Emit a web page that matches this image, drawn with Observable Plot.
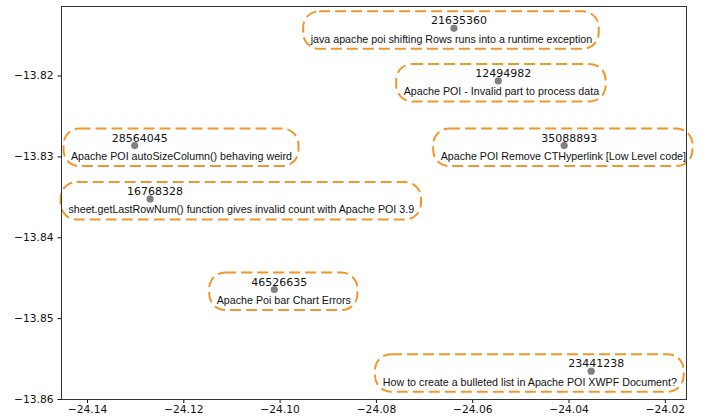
<!DOCTYPE html>
<html>
<head>
<meta charset="utf-8">
<script src="https://cdn.jsdelivr.net/npm/d3@7"></script>
<script src="https://cdn.jsdelivr.net/npm/@observablehq/plot@0.6"></script>
<style>
  html, body { margin: 0; padding: 0; background: #fff; }
</style>
</head>
<body>
<div id="chart"></div>
<script>
// ---- data ----
const ids = ["21635360", "12494982", "35088893", "28564045", "16768328", "46526635", "23441238"];
const titles = [
  "java apache poi shifting Rows runs into a runtime exception",
  "Apache POI - Invalid part to process data",
  "Apache POI Remove CTHyperlink [Low Level code]",
  "Apache POI autoSizeColumn() behaving weird",
  "sheet.getLastRowNum() function gives invalid count with Apache POI 3.9",
  "Apache Poi bar Chart Errors",
  "How to create a bulleted list in Apache POI XWPF Document?"
];
const xs = [-24.0639, -24.0547, -24.0410, -24.1302, -24.1270, -24.1012, -24.0354];
const ys = [-13.8141, -13.8206, -13.8286, -13.8286, -13.8352, -13.8464, -13.8565];
// x where each title label is centred (labels were shifted to stay inside the axes)
const labelXs = [-24.06442, -24.05404, -24.04118, -24.12048, -24.10806, -24.09923, -24.04814];
const xTicks = [-24.14, -24.12, -24.10, -24.08, -24.06, -24.04, -24.02];
const yTicks = [-13.86, -13.85, -13.84, -13.83, -13.82];

const data = ids.map((id, i) => ({id, title: titles[i], x: xs[i], y: ys[i], lx: labelXs[i]}));

const titleSize = 10.7;
const titleFamily = "'Liberation Sans', Arial, sans-serif";
const canvas = document.createElement("canvas");
const ctx = canvas.getContext("2d");
ctx.font = `${titleSize}px ${titleFamily}`;
const textWidth = s => ctx.measureText(s).width;

const fmt = d3.format(".2f");

const boxes = Plot.dot(data, {
  x: "lx", y: "y", r: 0,
  render: (index, scales, values, dimensions, context) => {
    const g = d3.create("svg:g");
    for (const i of index) {
      const cx = values.x[i], cy = values.y[i];
      const w = textWidth(data[i].title) + 14;
      g.append("rect")
        .attr("x", cx - w / 2)
        .attr("y", cy - 16.5)
        .attr("width", w)
        .attr("height", 37.5)
        .attr("rx", 16).attr("ry", 16)
        .attr("fill", "none")
        .attr("stroke", "#f0962c")
        .attr("stroke-width", 2)
        .attr("stroke-dasharray", "11,5");
    }
    return g.node();
  }
});

const chart = Plot.plot({
  width: 706,
  height: 417,
  marginLeft: 61,
  marginRight: 20,
  marginTop: 6,
  marginBottom: 18,
  style: {fontFamily: "'DejaVu Sans', sans-serif", fontSize: "10.7px", color: "#111", background: "#fff"},
  x: {domain: [-24.1454, -24.0156], ticks: xTicks, tickFormat: fmt, tickSize: 4, tickPadding: 2, label: null},
  y: {domain: [-13.86, -13.8114], ticks: yTicks, tickFormat: fmt, tickSize: 3.5, tickPadding: 4.5, label: null},
  marks: [
    boxes,
    Plot.dot(data, {x: "x", y: "y", r: 3.6, fill: "#808080", stroke: "none"}),
    Plot.text(data, {x: "x", y: "y", text: "id", dx: 5, dy: -7.5, fontSize: 11, fill: "#111",
      fontFamily: "'DejaVu Sans', sans-serif"}),
    Plot.text(data, {x: "lx", y: "y", text: "title", dy: 11, fontSize: titleSize, fill: "#111",
      fontFamily: titleFamily}),
    Plot.frame({stroke: "#333", strokeWidth: 1})
  ]
});
document.getElementById("chart").appendChild(chart);
</script>
</body>
</html>
